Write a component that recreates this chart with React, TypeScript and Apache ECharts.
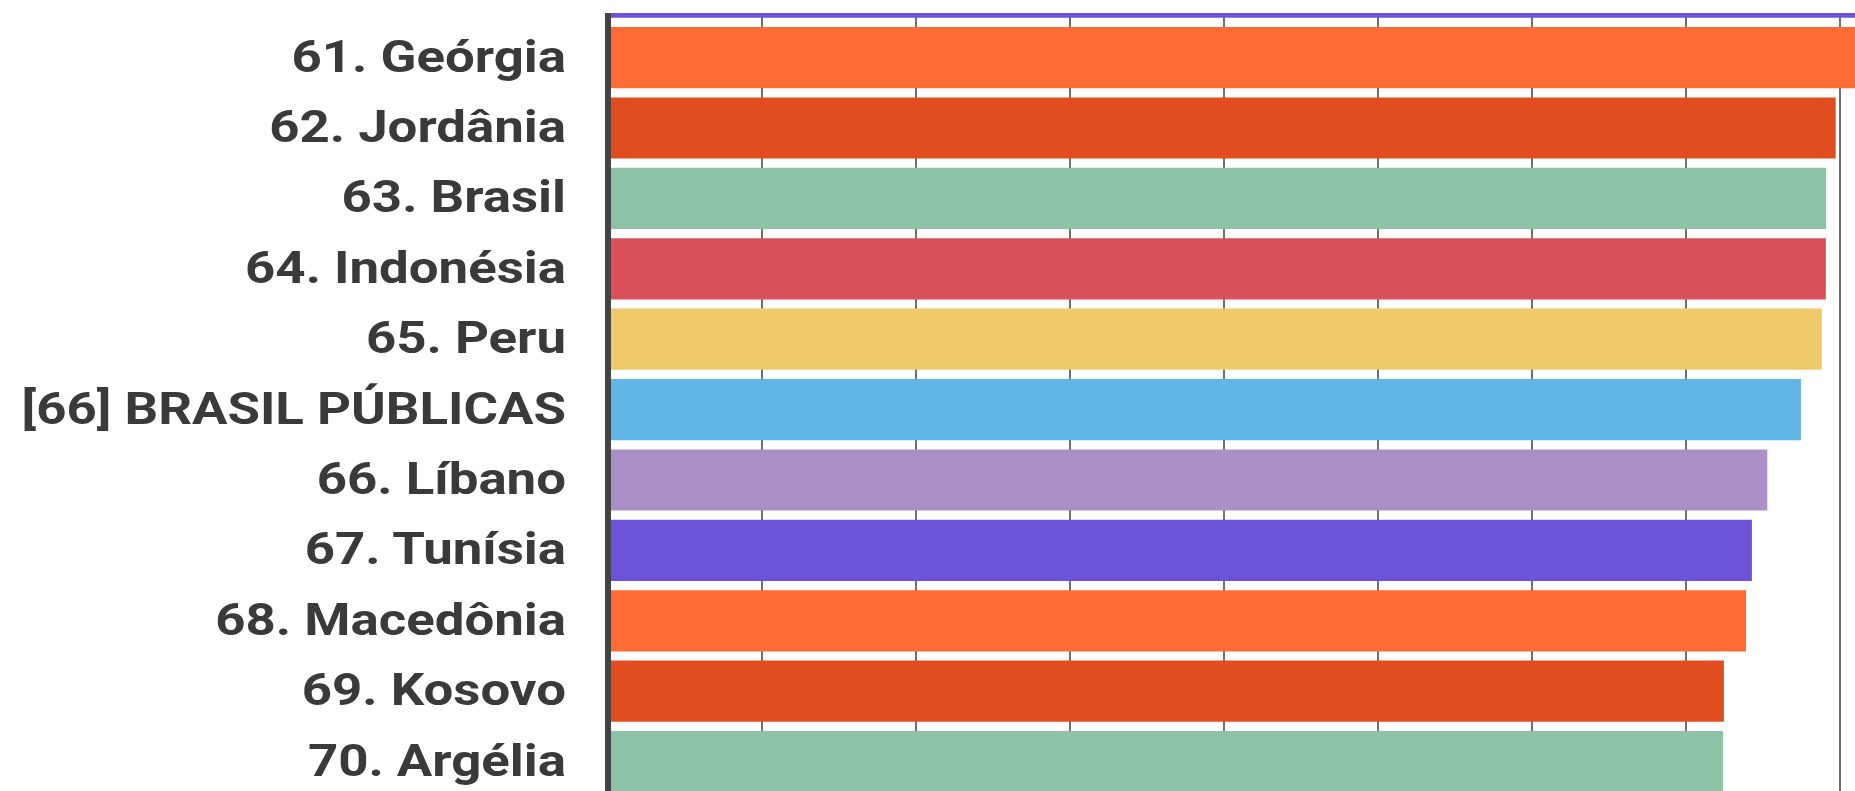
import React, { useEffect, useRef } from "react";
import * as echarts from "echarts";

// PISA-style ranking, positions 60–70 (average score)
const categories = [
  "60. Catar",
  "61. Geórgia",
  "62. Jordânia",
  "63. Brasil",
  "64. Indonésia",
  "65. Peru",
  "[66] BRASIL PÚBLICAS",
  "66. Líbano",
  "67. Tunísia",
  "68. Macedônia",
  "69. Kosovo",
  "70. Argélia",
];

const scores = [407.3, 405.3, 398.6, 395.5, 395.4, 394.1, 387.3, 376.4, 371.4, 369.5, 362.3, 362.0];

const palette = ["#FF6A35", "#E04D1F", "#8DC2A6", "#D9505A", "#EECA6B", "#5FB5E3", "#AA90C6", "#6C53D9"];

// colour index of the first row in the cycle
const paletteOffset = 7;

// the first row sits above the visible area, so its name is not drawn
const labelledRows = categories.map((_, i) => i).filter((i) => i > 0);

export default function App() {
  const ref = useRef<HTMLDivElement>(null);

  useEffect(() => {
    if (!ref.current) return;
    const chart = echarts.init(ref.current, null, { renderer: "svg" });
    chart.setOption({
      animation: false,
      backgroundColor: "transparent",
      grid: { left: 608, top: 0, width: 1386, height: 844.8, containLabel: false },
      xAxis: {
        type: "value",
        min: 0,
        max: 450,
        interval: 50,
        axisLine: { show: false },
        axisTick: { show: false },
        axisLabel: { show: false },
        splitLine: { show: true, lineStyle: { color: "#707070", width: 2 } },
      },
      yAxis: {
        type: "category",
        inverse: true,
        data: categories,
        axisTick: { show: false },
        axisLine: { show: true, lineStyle: { color: "#434343", width: 6 } },
        axisLabel: { show: false },
        z: 5,
      },
      series: [
        {
          type: "bar",
          barCategoryGap: "13%",
          data: scores.map((v, i) => ({
            value: v,
            itemStyle: { color: palette[(i + paletteOffset) % palette.length] },
          })),
        },
        {
          // wide category names, right-aligned against the axis
          type: "custom",
          coordinateSystem: "cartesian2d",
          clip: false,
          silent: true,
          z: 6,
          data: labelledRows.map((i) => [0, i]),
          renderItem: (params: any, api: any) => {
            const row = api.value(1);
            const p = api.coord([0, row]);
            return {
              type: "text",
              x: p[0] - 42,
              y: p[1] - 1,
              scaleX: 1.2,
              style: {
                text: categories[row],
                fill: "#3a3a3a",
                fontFamily: "Roboto",
                fontWeight: "bold",
                fontSize: 44,
                align: "right",
                verticalAlign: "middle",
                textAlign: "right",
                textVerticalAlign: "middle",
              },
            };
          },
        },
      ],
    });
    return () => chart.dispose();
  }, []);

  return (
    <div
      style={{
        position: "fixed",
        left: 0,
        top: 0,
        width: 1855,
        height: 791,
        overflow: "hidden",
        background: "#ffffff",
      }}
    >
      <div
        style={{
          position: "absolute",
          left: 0,
          top: 13,
          width: 1855,
          height: 778,
          overflow: "hidden",
        }}
      >
        <div
          ref={ref}
          style={{ position: "absolute", left: 0, top: -61, width: 2000, height: 845 }}
        />
      </div>
    </div>
  );
}
